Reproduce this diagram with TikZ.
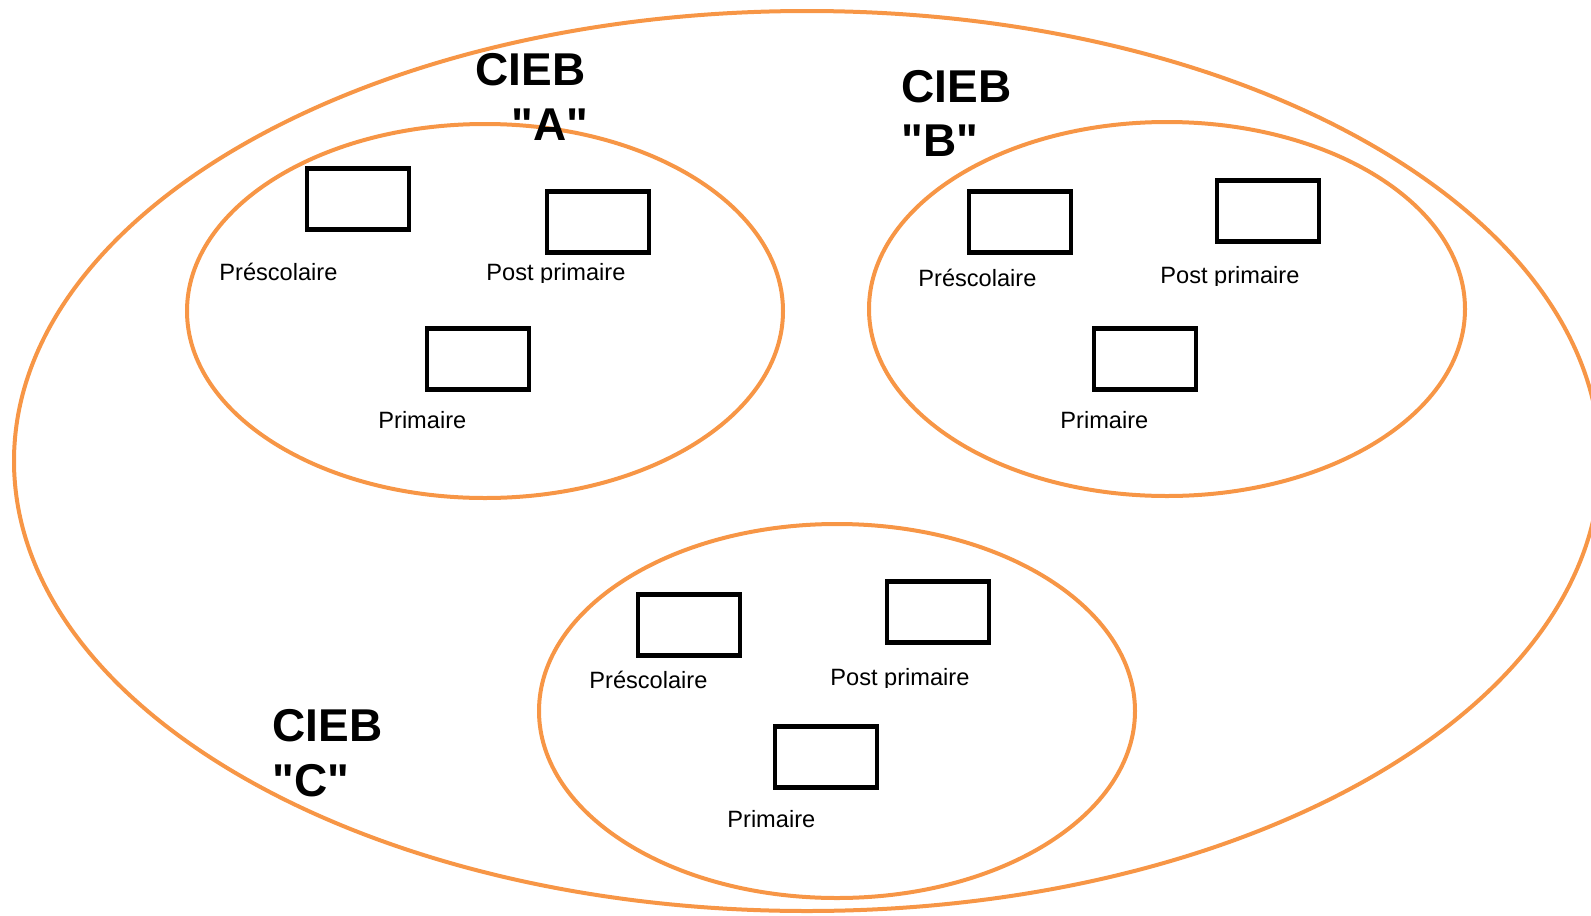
\documentclass[tikz,border=0pt]{standalone}
\usepackage{fontspec}
\setmainfont{Liberation Sans}[Ligatures=TeXReset]
\usetikzlibrary{shapes.geometric}
\definecolor{orng}{HTML}{F79646}
\tikzset{
  oval/.style={ellipse, draw=orng, line width=2pt, inner sep=0pt},
  levelbox/.style={draw=black, line width=2.1pt, minimum width=51pt, minimum height=30.5pt, inner sep=0pt},
  lbl/.style={anchor=base west, inner sep=0pt, font=\fontsize{11.8}{14}\selectfont},
  ttl/.style={inner sep=0pt, font=\fontsize{23}{27}\selectfont\bfseries}
}
\begin{document}
\begin{tikzpicture}[x=0.5pt,y=-0.5pt]
\useasboundingbox (0,0) rectangle (1591,916);
% ellipses
\node[oval, minimum width=793pt, minimum height=450pt] (big) at (807,461) {};
\node[oval, minimum width=298pt, minimum height=187pt] (ovA) at (485,311) {};
\node[oval, minimum width=298pt, minimum height=187pt] (ovB) at (1167,309) {};
\node[oval, minimum width=298pt, minimum height=187pt] (ovC) at (837,711) {};
% titles
\node[ttl, anchor=base east] (tA1) at (586,85) {CIEB};
\node[ttl, anchor=base east] (tA2) at (589,140) {"A"};
\node[ttl, anchor=base west] (tB1) at (901,102) {CIEB};
\node[ttl, anchor=base west] (tB2) at (901,156) {"B"};
\node[ttl, anchor=base west] (tC1) at (272,741) {CIEB};
\node[ttl, anchor=base west] (tC2) at (272,796) {"C"};
% boxes
\node[levelbox] (aPre) at (358,199) {};
\node[levelbox] (aPost) at (598,222) {};
\node[levelbox] (aPrim) at (478,359) {};
\node[levelbox] (bPre) at (1020,222) {};
\node[levelbox] (bPost) at (1268,211) {};
\node[levelbox] (bPrim) at (1145,359) {};
\node[levelbox] (cPre) at (689,625) {};
\node[levelbox] (cPost) at (938,612) {};
\node[levelbox] (cPrim) at (826,757) {};
% labels
\node[lbl] (laPre) at (219,280) {Préscolaire};
\node[lbl] (laPrim) at (378,428) {Primaire};
\node[lbl] (lbPre) at (918,286) {Préscolaire};
\node[lbl] (lbPrim) at (1060,428) {Primaire};
\node[lbl] (lcPre) at (589,688) {Préscolaire};
\node[lbl] (lcPrim) at (727,827) {Primaire};
\begin{scope}
\clip (470,250) rectangle (650,282);
\node[lbl] (laPost) at (486,280) {Post primaire};
\end{scope}
\begin{scope}
\clip (1150,250) rectangle (1320,285);
\node[lbl] (lbPost) at (1160,283) {Post primaire};
\end{scope}
\begin{scope}
\clip (820,650) rectangle (990,687);
\node[lbl] (lcPost) at (830,685) {Post primaire};
\end{scope}
\end{tikzpicture}
\end{document}
